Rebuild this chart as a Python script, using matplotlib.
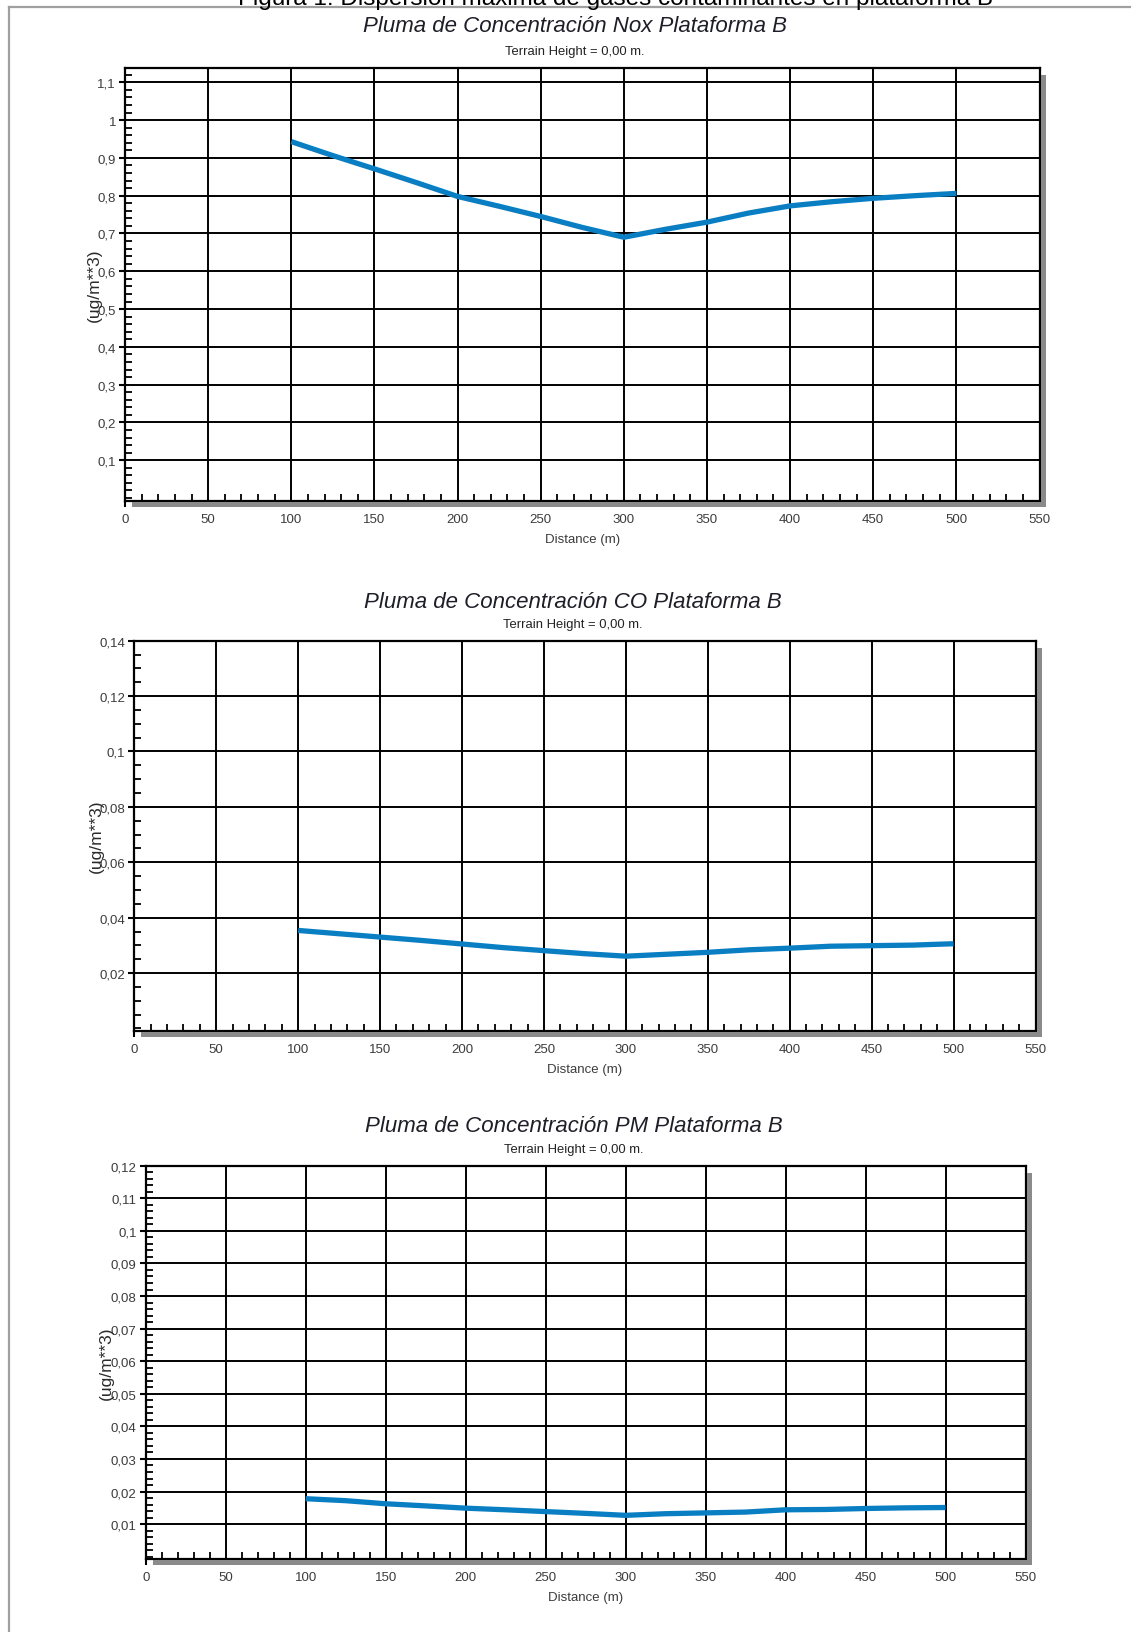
import matplotlib
matplotlib.use("Agg")
import matplotlib.pyplot as plt
from matplotlib.patches import Rectangle
from matplotlib.lines import Line2D
from matplotlib.ticker import MultipleLocator, FuncFormatter

plt.rcParams["font.family"] = ["Liberation Sans", "DejaVu Sans"]

W, H = 1131, 1633

# distance along the plume (m)
distance = [100, 125, 150, 175, 200, 225, 250, 275, 300,
            325, 350, 375, 400, 425, 450, 475, 500]

# concentrations (ug/m**3)
nox = [0.943, 0.906, 0.871, 0.835, 0.798, 0.772, 0.745, 0.716, 0.690,
       0.711, 0.730, 0.754, 0.773, 0.784, 0.793, 0.800, 0.806]
co = [0.0354, 0.0342, 0.0330, 0.0318, 0.0305, 0.0292, 0.0281, 0.0270, 0.0261,
      0.0268, 0.0275, 0.0284, 0.0290, 0.0297, 0.0299, 0.0301, 0.0306]
pm = [0.0178, 0.0172, 0.01625, 0.0156, 0.0149, 0.0144, 0.01385, 0.0133, 0.0127,
      0.0132, 0.01345, 0.0137, 0.0144, 0.0145, 0.0148, 0.0150, 0.0151]

x_ticks = [0, 50, 100, 150, 200, 250, 300, 350, 400, 450, 500, 550]
nox_ticks = [0.1, 0.2, 0.3, 0.4, 0.5, 0.6, 0.7, 0.8, 0.9, 1.0, 1.1]
co_ticks = [0.02, 0.04, 0.06, 0.08, 0.10, 0.12, 0.14]
pm_ticks = [0.01, 0.02, 0.03, 0.04, 0.05, 0.06, 0.07, 0.08, 0.09, 0.10, 0.11, 0.12]

titles = ["Pluma de Concentración Nox Plataforma B",
          "Pluma de Concentración CO Plataforma B",
          "Pluma de Concentración PM Plataforma B"]
subtitle = "Terrain Height = 0,00 m."
header = "Figura 1: Dispersión máxima de gases contaminantes en plataforma B"

LINE_BLUE = "#0a7ec2"
TXT = "#3c3c3c"


def fx(px):
    return px / W


def fy(py):
    return 1 - py / H


def comma(v, _):
    return f"{round(v, 4):g}".replace(".", ",")


def panel(fig, box, y, ylim, yticks, yminor, title, title_y, sub_y, title_x, ylab_x):
    left, top, right, bottom = box
    h = bottom - top
    ax = fig.add_axes([fx(left), fy(bottom), fx(right - left), h / H])
    ax.plot(distance, y, color=LINE_BLUE, lw=3.8, solid_capstyle="butt", zorder=5)
    ax.set_xlim(0, 550)
    ax.set_ylim(*ylim)
    ax.set_xticks(x_ticks)
    ax.set_yticks(yticks)
    ax.xaxis.set_minor_locator(MultipleLocator(10))
    ax.yaxis.set_minor_locator(MultipleLocator(yminor))
    ax.yaxis.set_major_formatter(FuncFormatter(comma))
    ax.grid(True, which="major", color="black", lw=1.4, zorder=1)
    ax.set_axisbelow(True)
    for s in ax.spines.values():
        s.set_linewidth(1.6)
        s.set_zorder(6)
    ax.tick_params(which="major", direction="out", length=4.5, width=1.5,
                   labelsize=9.5, labelcolor=TXT, pad=2)
    ax.tick_params(axis="x", which="major", pad=4.5)
    ax.tick_params(which="minor", direction="in", length=5, width=1.3)

    ax.set_xlabel("Distance (m)", fontsize=9.5, color=TXT)
    ax.xaxis.set_label_coords(0.5, -32 / h)
    ax.set_ylabel("(ug/m**3)", fontsize=12.5, color="#2a2a2a")
    ax.yaxis.set_label_coords((ylab_x - left) / (right - left), 0.5)

    # drop shadow of the plot frame
    sh = "#8a8a8a"
    fig.add_artist(Rectangle((fx(right + 1), fy(bottom + 6)), 5 / W, (h - 1) / H,
                             transform=fig.transFigure, color=sh, lw=0))
    fig.add_artist(Rectangle((fx(left + 7), fy(bottom + 6)), (right - left - 1) / W, 5 / H,
                             transform=fig.transFigure, color=sh, lw=0))

    fig.text(fx(title_x), fy(title_y), title, ha="center", va="center",
             fontsize=16, style="italic", color="#1e1e28")
    fig.text(fx(title_x), fy(sub_y), subtitle, ha="center", va="center",
             fontsize=9.4, color="#222222")
    return ax


fig = plt.figure(figsize=(W / 100, H / 100), dpi=100)

# page frame (top and left edges only visible)
fig.add_artist(Line2D([fx(9), 1], [fy(8), fy(8)], transform=fig.transFigure,
                      color="#a0a0a0", lw=1.6))
fig.add_artist(Line2D([fx(9), fx(9)], [fy(8), 0], transform=fig.transFigure,
                      color="#a0a0a0", lw=1.6))

fig.text(fx(616), fy(5.5), header, ha="center", va="baseline", fontsize=17.5,
         color="black")

panel(fig, (125, 69.3, 1039.5, 501.7), nox, (-0.007, 1.137), nox_ticks, 0.02,
      titles[0], 26, 52, 575, 102)
panel(fig, (134.3, 641.7, 1035.5, 1031.7), co, (-0.0008, 0.14), co_ticks, 0.005,
      titles[1], 602, 625, 573, 104)
panel(fig, (145.7, 1166.7, 1025.5, 1560), pm, (-0.0007, 0.12), pm_ticks, 0.002,
      titles[2], 1127, 1150, 574, 114)

fig.savefig("out.png", dpi=100)
